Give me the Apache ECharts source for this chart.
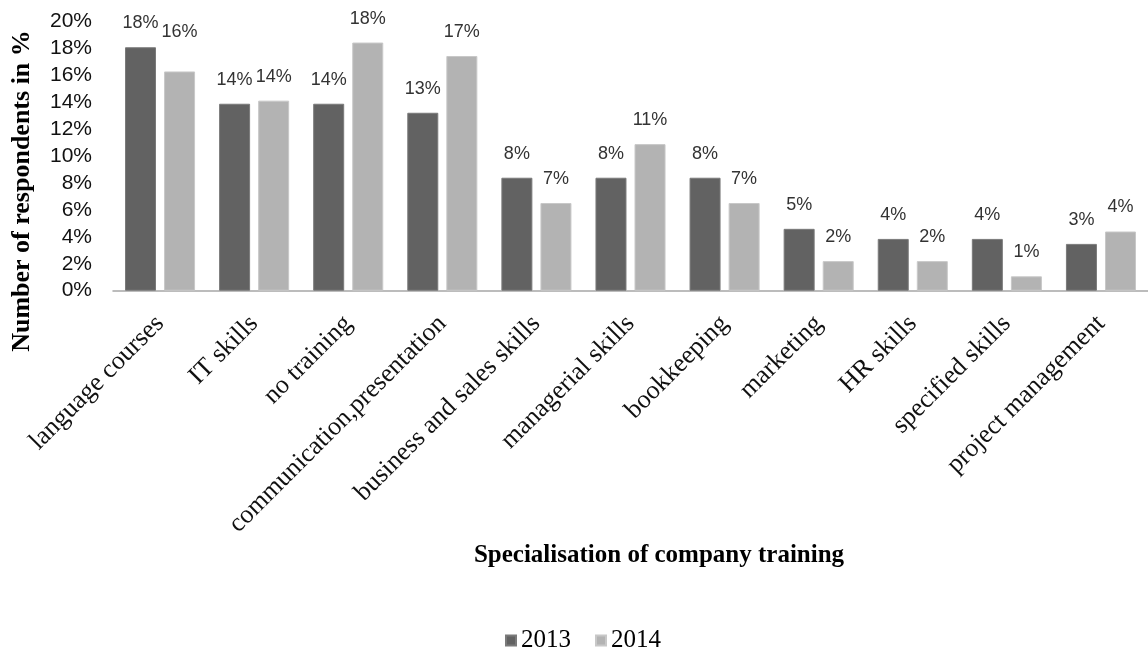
<!DOCTYPE html>
<html>
<head>
<meta charset="utf-8">
<script src="https://cdn.jsdelivr.net/npm/echarts@6/dist/echarts.min.js"></script>
<style>html,body{margin:0;padding:0;background:#fff}#c{width:1148px;height:650px}</style>
</head>
<body>
<div id="c"></div>
<script>
const categories = ["language courses","IT skills","no training","communication,presentation","business and sales skills","managerial skills","bookkeeping","marketing","HR skills","specified skills","project management"];
const values2013 = [18.1, 13.9, 13.9, 13.23, 8.4, 8.4, 8.4, 4.6, 3.85, 3.85, 3.48];
const values2014 = [16.3, 14.13, 18.45, 17.45, 6.52, 10.9, 6.52, 2.2, 2.2, 1.07, 4.4];
const seriesNames = ["2013", "2014"];
const yTicks = {min: 0, max: 20, interval: 2};
const yTitle = "Number of respondents in %";
const xTitle = "Specialisation of company training";

const sans = "'Liberation Sans', Arial, sans-serif";
const serif = "'Liberation Serif', 'Times New Roman', serif";
const colors = ['#626262', '#b3b3b3'];
const borders = ['#7a7a7a', '#c8c8c8'];

function mkSeries(name, vals, idx) {
  return {
    name: name,
    type: 'bar',
    data: vals.map((v, i) => {
      const d = {value: v};
      if (idx === 1 && i === 0) d.label = {distance: 30};
      return d;
    }),
    barWidth: 31,
    barGap: '26%',
    itemStyle: {color: colors[idx], borderColor: borders[idx], borderWidth: 1},
    label: {
      show: true, position: 'top', distance: 15,
      fontFamily: sans, fontSize: 18, color: '#333',
      formatter: p => Math.round(p.value) + '%'
    }
  };
}

const chart = echarts.init(document.getElementById('c'), null, {renderer: 'canvas'});
chart.setOption({
  animation: false,
  backgroundColor: '#fff',
  grid: {left: 113, right: 0, top: 21.7, bottom: 359.3, containLabel: false},
  legend: {
    data: seriesNames,
    left: 500, top: 623,
    itemWidth: 10, itemHeight: 10, itemGap: 24,
    icon: 'rect',
    textStyle: {fontFamily: serif, fontSize: 25, color: '#000', padding: [0,0,0,0]}
  },
  xAxis: {
    type: 'category',
    data: categories,
    axisLine: {lineStyle: {color: '#a6a6a6', width: 1.5}},
    axisTick: {show: false},
    axisLabel: {rotate: 45, interval: 0, margin: 29, fontFamily: serif, fontSize: 26, color: '#111'}
  },
  yAxis: {
    type: 'value',
    min: yTicks.min, max: yTicks.max, interval: yTicks.interval,
    axisLine: {show: false},
    axisTick: {show: false},
    splitLine: {show: false},
    axisLabel: {formatter: '{value}%', fontFamily: sans, fontSize: 21, color: '#111', margin: 21}
  },
  graphic: [
    {type: 'text', x: 22, y: 191, rotation: Math.PI / 2,
     style: {text: yTitle, font: 'bold 26px ' + serif, fill: '#000', textAlign: 'center', textVerticalAlign: 'middle'}},
    {type: 'text', x: 659, y: 556,
     style: {text: xTitle, font: 'bold 25px ' + serif, fill: '#000', textAlign: 'center', textVerticalAlign: 'middle'}}
  ],
  series: [mkSeries(seriesNames[0], values2013, 0), mkSeries(seriesNames[1], values2014, 1)]
});
</script>
</body>
</html>
